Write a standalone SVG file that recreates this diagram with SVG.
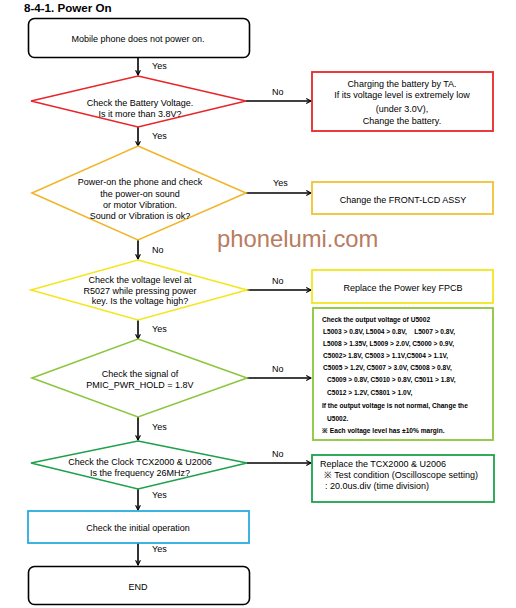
<svg xmlns="http://www.w3.org/2000/svg" width="516" height="608" viewBox="0 0 516 608">
<defs>
<style>
text{font-family:"Liberation Sans",Arial,sans-serif;fill:#000;}
.t{font-size:9px;}
.c{text-anchor:middle;}
.lbl{font-size:9px;}
.sm{font-size:6.6px;font-weight:bold;white-space:pre;}
.edge{stroke:#000;stroke-width:1.6;fill:none;marker-end:url(#ah);}
</style>
<marker id="ah" viewBox="0 0 10 10" refX="9" refY="5" markerWidth="6" markerHeight="6" markerUnits="userSpaceOnUse" orient="auto">
<polyline points="1,1 9,5 1,9" fill="none" stroke="#000" stroke-width="1.8"/>
</marker>
</defs>
<rect width="516" height="608" fill="#fff"/>
<text x="24" y="12" style="font-size:11.6px;font-weight:bold">8-4-1. Power On</text>

<g id="connectors">
<line class="edge" x1="138" y1="57" x2="138" y2="75"/>
<text class="lbl" x="152" y="69">Yes</text>
<line class="edge" x1="246" y1="101" x2="311" y2="101"/>
<text class="lbl" x="272" y="95">No</text>
<line class="edge" x1="138" y1="127" x2="138" y2="146"/>
<text class="lbl" x="152" y="139">Yes</text>
<line class="edge" x1="246" y1="193" x2="311" y2="193"/>
<text class="lbl" x="273" y="186">Yes</text>
<line class="edge" x1="138" y1="240" x2="138" y2="259"/>
<text class="lbl" x="152" y="253">No</text>
<line class="edge" x1="247" y1="290" x2="311" y2="290"/>
<text class="lbl" x="272" y="284">No</text>
<line class="edge" x1="138" y1="320" x2="138" y2="339"/>
<text class="lbl" x="152" y="332">Yes</text>
<line class="edge" x1="247" y1="378" x2="311" y2="378"/>
<text class="lbl" x="272" y="372">No</text>
<line class="edge" x1="138" y1="417" x2="138" y2="440"/>
<text class="lbl" x="152" y="430">Yes</text>
<line class="edge" x1="247" y1="463" x2="311" y2="463"/>
<text class="lbl" x="272" y="457">No</text>
<line class="edge" x1="138" y1="489" x2="138" y2="510"/>
<text class="lbl" x="152" y="498">Yes</text>
<line class="edge" x1="138" y1="543" x2="138" y2="565"/>
<text class="lbl" x="152" y="552">Yes</text>
</g>

<g id="start">
<rect x="28.5" y="18.5" width="221" height="39" rx="6" fill="#fff" stroke="#000" stroke-width="1.6"/>
<text class="t c" x="138" y="42">Mobile phone does not power on.</text>
</g>

<g id="d1">
<polygon points="138,76 246,101 138,127 31,101" fill="#fff" stroke="#e8262a" stroke-width="1.6"/>
<text class="t c" x="140" y="106">Check the Battery Voltage.</text>
<text class="t c" x="140" y="117">Is it more than 3.8V?</text>
</g>

<g id="b1">
<rect x="312" y="72" width="181" height="59" fill="#fff" stroke="#e8262a" stroke-width="1.8"/>
<text class="t c" x="402" y="87">Charging the battery by TA.</text>
<text class="t c" x="402" y="98">If its voltage level is extremely low</text>
<text class="t c" x="402" y="112">(under 3.0V),</text>
<text class="t c" x="402" y="124">Change the battery.</text>
</g>

<g id="d2">
<polygon points="138,146 246,193 138,240 32,193" fill="#fff" stroke="#f2b52a" stroke-width="1.6"/>
<text class="t c" x="140" y="185">Power-on the phone and check</text>
<text class="t c" x="140" y="197">the power-on sound</text>
<text class="t c" x="140" y="208">or motor Vibration.</text>
<text class="t c" x="140" y="219">Sound or Vibration is ok?</text>
</g>

<g id="b2">
<rect x="312" y="182" width="181" height="32" fill="#fff" stroke="#f2c230" stroke-width="1.8"/>
<text class="t c" x="403" y="203">Change the FRONT-LCD ASSY</text>
</g>

<text x="217" y="247" style="font-size:23.8px;font-family:'Liberation Sans',Arial,sans-serif;fill:#b87c5e">phonelumi.com</text>

<g id="d3">
<polygon points="138,260 247,290 138,320 31,290" fill="#fff" stroke="#f4e61e" stroke-width="1.6"/>
<text class="t c" x="140" y="283">Check the voltage level at</text>
<text class="t c" x="140" y="294">R5027 while pressing power</text>
<text class="t c" x="140" y="304">key. Is the voltage high?</text>
</g>

<g id="b3">
<rect x="312" y="270" width="181" height="33" fill="#fff" stroke="#f4e61e" stroke-width="1.8"/>
<text class="t c" x="403" y="291">Replace the Power key FPCB</text>
</g>

<g id="d4">
<polygon points="138,339 247,378 138,417 32,378" fill="#fff" stroke="#8cc63e" stroke-width="1.6"/>
<text class="t c" x="140" y="377">Check the signal of</text>
<text class="t c" x="140" y="388">PMIC_PWR_HOLD = 1.8V</text>
</g>

<g id="b4">
<rect x="313" y="308" width="180" height="132" fill="#fff" stroke="#8cc63e" stroke-width="1.8"/>
<text class="sm" x="322" y="322">Check the output voltage of U5002</text>
<text class="sm" x="323" y="334" xml:space="preserve">L5003 &gt; 0.8V, L5004 &gt; 0.8V,    L5007 &gt; 0.8V,</text>
<text class="sm" x="323" y="346">L5008 &gt; 1.35V, L5009 &gt; 2.0V, C5000 &gt; 0.9V,</text>
<text class="sm" x="323" y="358">C5002&gt; 1.8V, C5003 &gt; 1.1V,C5004 &gt; 1.1V,</text>
<text class="sm" x="323" y="370">C5005 &gt; 1.2V, C5007 &gt; 3.0V, C5008 &gt; 0.8V,</text>
<text class="sm" x="327" y="382">C5009 &gt; 0.8V, C5010 &gt; 0.8V, C5011 &gt; 1.8V,</text>
<text class="sm" x="327" y="395">C5012 &gt; 1.2V, C5801 &gt; 1.0V,</text>
<text class="sm" x="322" y="408">If the output voltage is not normal, Change the</text>
<text class="sm" x="327" y="421">U5002.</text>
<text class="sm" x="322" y="433">※ Each voltage level has ±10% margin.</text>
</g>

<g id="d5">
<polygon points="138,441 247,463 138,489 31,463" fill="#fff" stroke="#1ea14b" stroke-width="1.6"/>
<text class="t c" x="140" y="465">Check the Clock TCX2000 &amp; U2006</text>
<text class="t c" x="140" y="476">Is the frequency 26MHz?</text>
</g>

<g id="b5">
<rect x="312" y="455" width="182" height="47" fill="#fff" stroke="#1ea14b" stroke-width="1.8"/>
<text class="t" x="320" y="467">Replace the TCX2000 &amp; U2006</text>
<text class="t" x="324" y="478">※ Test condition (Oscilloscope setting)</text>
<text class="t" x="325" y="489">: 20.0us.div (time division)</text>
</g>

<g id="b6">
<rect x="28" y="511" width="221" height="32" fill="#fff" stroke="#29abe2" stroke-width="1.8"/>
<text class="t c" x="138" y="531">Check the initial operation</text>
</g>

<g id="end">
<rect x="28.5" y="566.5" width="221" height="38" rx="6" fill="#fff" stroke="#000" stroke-width="1.6"/>
<text class="t c" x="138" y="590">END</text>
</g>
</svg>
